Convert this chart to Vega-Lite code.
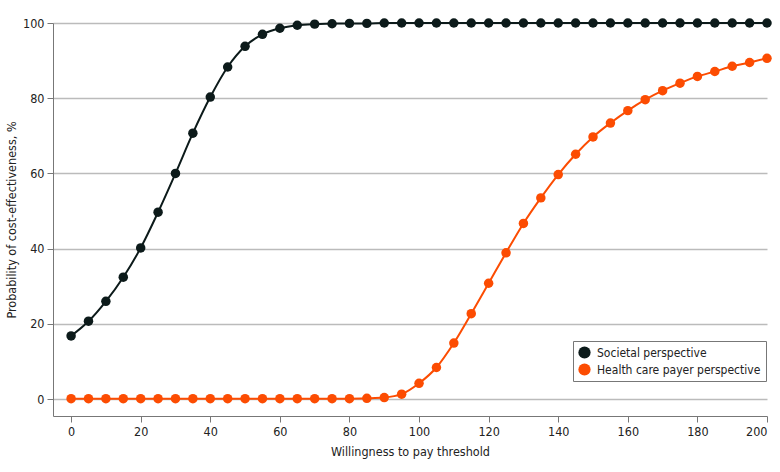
{
  "$schema": "https://vega.github.io/schema/vega-lite/v6.json",
  "width": 714,
  "height": 393,
  "autosize": "none",
  "padding": {"left": 53, "top": 23, "right": 13, "bottom": 56},
  "background": "white",
  "config": {
    "view": {"stroke": null},
    "font": "DejaVu Sans Condensed, Lato",
    "axis": {"labelFont": "DejaVu Sans Condensed, Lato", "titleFont": "DejaVu Sans Condensed, Lato", "labelFontSize": 12.5, "titleFontSize": 12.5, "titleFontWeight": "normal", "labelColor": "#222", "titleColor": "#222", "domainColor": "#777", "tickColor": "#777", "gridColor": "#bbb", "gridWidth": 1.3}
  },
  "data": {"values": [
    {"x": 0, "y": 16.8, "s": "Societal perspective"},
    {"x": 5, "y": 20.7, "s": "Societal perspective"},
    {"x": 10, "y": 26.0, "s": "Societal perspective"},
    {"x": 15, "y": 32.4, "s": "Societal perspective"},
    {"x": 20, "y": 40.2, "s": "Societal perspective"},
    {"x": 25, "y": 49.7, "s": "Societal perspective"},
    {"x": 30, "y": 60.0, "s": "Societal perspective"},
    {"x": 35, "y": 70.7, "s": "Societal perspective"},
    {"x": 40, "y": 80.3, "s": "Societal perspective"},
    {"x": 45, "y": 88.3, "s": "Societal perspective"},
    {"x": 50, "y": 93.8, "s": "Societal perspective"},
    {"x": 55, "y": 97.0, "s": "Societal perspective"},
    {"x": 60, "y": 98.6, "s": "Societal perspective"},
    {"x": 65, "y": 99.4, "s": "Societal perspective"},
    {"x": 70, "y": 99.7, "s": "Societal perspective"},
    {"x": 75, "y": 99.8, "s": "Societal perspective"},
    {"x": 80, "y": 99.9, "s": "Societal perspective"},
    {"x": 85, "y": 99.9, "s": "Societal perspective"},
    {"x": 90, "y": 100, "s": "Societal perspective"},
    {"x": 95, "y": 100, "s": "Societal perspective"},
    {"x": 100, "y": 100, "s": "Societal perspective"},
    {"x": 105, "y": 100, "s": "Societal perspective"},
    {"x": 110, "y": 100, "s": "Societal perspective"},
    {"x": 115, "y": 100, "s": "Societal perspective"},
    {"x": 120, "y": 100, "s": "Societal perspective"},
    {"x": 125, "y": 100, "s": "Societal perspective"},
    {"x": 130, "y": 100, "s": "Societal perspective"},
    {"x": 135, "y": 100, "s": "Societal perspective"},
    {"x": 140, "y": 100, "s": "Societal perspective"},
    {"x": 145, "y": 100, "s": "Societal perspective"},
    {"x": 150, "y": 100, "s": "Societal perspective"},
    {"x": 155, "y": 100, "s": "Societal perspective"},
    {"x": 160, "y": 100, "s": "Societal perspective"},
    {"x": 165, "y": 100, "s": "Societal perspective"},
    {"x": 170, "y": 100, "s": "Societal perspective"},
    {"x": 175, "y": 100, "s": "Societal perspective"},
    {"x": 180, "y": 100, "s": "Societal perspective"},
    {"x": 185, "y": 100, "s": "Societal perspective"},
    {"x": 190, "y": 100, "s": "Societal perspective"},
    {"x": 195, "y": 100, "s": "Societal perspective"},
    {"x": 200, "y": 100, "s": "Societal perspective"},
    {"x": 0, "y": 0.1, "s": "Health care payer perspective"},
    {"x": 5, "y": 0.1, "s": "Health care payer perspective"},
    {"x": 10, "y": 0.1, "s": "Health care payer perspective"},
    {"x": 15, "y": 0.1, "s": "Health care payer perspective"},
    {"x": 20, "y": 0.1, "s": "Health care payer perspective"},
    {"x": 25, "y": 0.1, "s": "Health care payer perspective"},
    {"x": 30, "y": 0.1, "s": "Health care payer perspective"},
    {"x": 35, "y": 0.1, "s": "Health care payer perspective"},
    {"x": 40, "y": 0.1, "s": "Health care payer perspective"},
    {"x": 45, "y": 0.1, "s": "Health care payer perspective"},
    {"x": 50, "y": 0.1, "s": "Health care payer perspective"},
    {"x": 55, "y": 0.1, "s": "Health care payer perspective"},
    {"x": 60, "y": 0.1, "s": "Health care payer perspective"},
    {"x": 65, "y": 0.1, "s": "Health care payer perspective"},
    {"x": 70, "y": 0.1, "s": "Health care payer perspective"},
    {"x": 75, "y": 0.1, "s": "Health care payer perspective"},
    {"x": 80, "y": 0.1, "s": "Health care payer perspective"},
    {"x": 85, "y": 0.2, "s": "Health care payer perspective"},
    {"x": 90, "y": 0.4, "s": "Health care payer perspective"},
    {"x": 95, "y": 1.3, "s": "Health care payer perspective"},
    {"x": 100, "y": 4.2, "s": "Health care payer perspective"},
    {"x": 105, "y": 8.4, "s": "Health care payer perspective"},
    {"x": 110, "y": 14.9, "s": "Health care payer perspective"},
    {"x": 115, "y": 22.7, "s": "Health care payer perspective"},
    {"x": 120, "y": 30.8, "s": "Health care payer perspective"},
    {"x": 125, "y": 38.9, "s": "Health care payer perspective"},
    {"x": 130, "y": 46.7, "s": "Health care payer perspective"},
    {"x": 135, "y": 53.5, "s": "Health care payer perspective"},
    {"x": 140, "y": 59.7, "s": "Health care payer perspective"},
    {"x": 145, "y": 65.1, "s": "Health care payer perspective"},
    {"x": 150, "y": 69.7, "s": "Health care payer perspective"},
    {"x": 155, "y": 73.4, "s": "Health care payer perspective"},
    {"x": 160, "y": 76.7, "s": "Health care payer perspective"},
    {"x": 165, "y": 79.6, "s": "Health care payer perspective"},
    {"x": 170, "y": 82.0, "s": "Health care payer perspective"},
    {"x": 175, "y": 84.0, "s": "Health care payer perspective"},
    {"x": 180, "y": 85.8, "s": "Health care payer perspective"},
    {"x": 185, "y": 87.1, "s": "Health care payer perspective"},
    {"x": 190, "y": 88.5, "s": "Health care payer perspective"},
    {"x": 195, "y": 89.5, "s": "Health care payer perspective"},
    {"x": 200, "y": 90.6, "s": "Health care payer perspective"}
  ]},
  "encoding": {
    "x": {"field": "x", "type": "quantitative", "scale": {"domain": [-5.2, 200], "nice": false, "zero": false},
      "axis": {"title": "Willingness to pay threshold", "values": [0, 20, 40, 60, 80, 100, 120, 140, 160, 180, 200], "grid": false, "tickSize": 6, "labelPadding": 3, "titlePadding": 8}},
    "y": {"field": "y", "type": "quantitative", "scale": {"domain": [-4.5, 100], "nice": false, "zero": false},
      "axis": {"title": "Probability of cost-effectiveness, %", "values": [0, 20, 40, 60, 80, 100], "grid": true, "tickSize": 6, "labelPadding": 3, "titlePadding": 4}},
    "color": {"field": "s", "type": "nominal",
      "scale": {"domain": ["Societal perspective", "Health care payer perspective"], "range": ["#0c1a1a", "#fc4c02"]},
      "legend": {"title": null, "orient": "none", "legendX": 520, "legendY": 318, "labelFontSize": 12, "labelFont": "DejaVu Sans Condensed, Lato", "labelLimit": 400, "labelColor": "#222", "symbolType": "circle", "symbolSize": 150, "symbolOpacity": 1, "strokeColor": "#777", "fillColor": "white", "padding": 5, "rowPadding": 4, "symbolStrokeWidth": 0, "labelOffset": 6}
    }
  },
  "layer": [
    {"mark": {"type": "line", "interpolate": "monotone", "strokeWidth": 2}},
    {"mark": {"type": "point", "filled": true, "size": 90, "opacity": 1, "shape": "circle"}}
  ]
}
